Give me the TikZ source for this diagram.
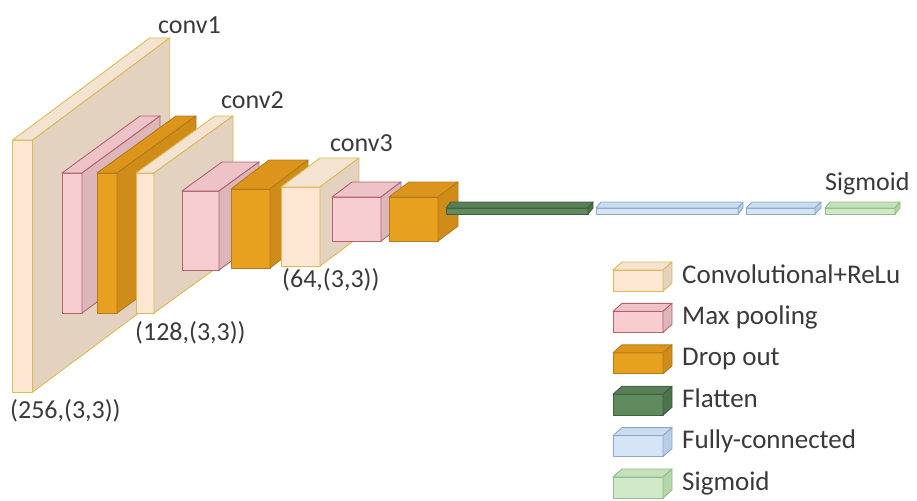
\documentclass[tikz,border=0pt]{standalone}
\usepackage{fontspec}
\setmainfont{Carlito}
\usepackage{tikz}

\definecolor{convfront}{HTML}{FDE7D3}
\definecolor{convtop}{HTML}{F4E3D1}
\definecolor{convside}{HTML}{E3D2BF}
\definecolor{convline}{HTML}{DDBA55}
\definecolor{poolfront}{HTML}{F7CDD1}
\definecolor{pooltop}{HTML}{EEC3C7}
\definecolor{poolside}{HTML}{DDB6B9}
\definecolor{poolline}{HTML}{B4636B}
\definecolor{dropfront}{HTML}{E8A11F}
\definecolor{droptop}{HTML}{DC951A}
\definecolor{dropside}{HTML}{D08C18}
\definecolor{dropline}{HTML}{B47A1E}
\definecolor{flatfront}{HTML}{5F8B5F}
\definecolor{flattop}{HTML}{587F57}
\definecolor{flatside}{HTML}{4C734C}
\definecolor{flatline}{HTML}{3F5F3F}
\definecolor{fcfront}{HTML}{D6E5F5}
\definecolor{fctop}{HTML}{C9DCF0}
\definecolor{fcside}{HTML}{B9CDE8}
\definecolor{fcline}{HTML}{8DA8CB}
\definecolor{sigfront}{HTML}{D1E8C9}
\definecolor{sigtop}{HTML}{C5E0BB}
\definecolor{sigside}{HTML}{B5D5AA}
\definecolor{sigline}{HTML}{8EBF86}
\definecolor{labeltext}{HTML}{3A3A3A}

\tikzset{
  conv/.style={draw=convline, line width=0.9pt, line join=round},
  convfront/.style={conv, fill=convfront},
  convtop/.style={conv, fill=convtop},
  convside/.style={conv, fill=convside},
  pool/.style={draw=poolline, line width=0.9pt, line join=round},
  poolfront/.style={pool, fill=poolfront},
  pooltop/.style={pool, fill=pooltop},
  poolside/.style={pool, fill=poolside},
  drop/.style={draw=dropline, line width=0.9pt, line join=round},
  dropfront/.style={drop, fill=dropfront},
  droptop/.style={drop, fill=droptop},
  dropside/.style={drop, fill=dropside},
  flat/.style={draw=flatline, line width=0.9pt, line join=round},
  flatfront/.style={flat, fill=flatfront},
  flattop/.style={flat, fill=flattop},
  flatside/.style={flat, fill=flatside},
  fc/.style={draw=fcline, line width=0.9pt, line join=round},
  fcfront/.style={fc, fill=fcfront},
  fctop/.style={fc, fill=fctop},
  fcside/.style={fc, fill=fcside},
  sig/.style={draw=sigline, line width=0.9pt, line join=round},
  sigfront/.style={sig, fill=sigfront},
  sigtop/.style={sig, fill=sigtop},
  sigside/.style={sig, fill=sigside},
  layertext/.style={text=labeltext, inner sep=0pt, font=\fontsize{26}{30}\selectfont},
  keytext/.style={layertext, font=\fontsize{27}{31}\selectfont}
}

% #1 kind, #2 left, #3 top, #4 width, #5 height, #6 depth x, #7 depth y
\newcommand{\layerbox}[7]{%
  \draw[#1front] (#2,#3) rectangle ++(#4,#5);
  \draw[#1top] (#2,#3) -- ++(#6,-#7) -- ++(#4,0) -- ++(-#6,#7) -- cycle;
  \draw[#1side] ({#2+#4},#3) -- ++(#6,-#7) -- ++(0,#5) -- ++(-#6,#7) -- cycle;
}

\begin{document}
\begin{tikzpicture}[x=1pt,y=-1pt]
\useasboundingbox (0,0) rectangle (917,500);
% network
\layerbox{conv}{12.7}{140}{20}{252}{137}{102}
\layerbox{pool}{62}{173}{20}{140}{78}{57}
\layerbox{drop}{97}{173}{20}{140}{79}{57}
\layerbox{conv}{136}{173}{18}{140}{79}{57}
\layerbox{pool}{182}{191}{37}{79}{40}{29}
\layerbox{drop}{231}{189}{39}{79}{38}{29}
\layerbox{conv}{281}{187}{39}{79}{39}{29}
\layerbox{pool}{332}{197}{49}{44}{20}{15}
\layerbox{drop}{389}{197}{49}{44}{20}{15}
\layerbox{flat}{446}{208}{142}{6}{5}{6}
\layerbox{fc}{596}{208}{142}{6}{5}{6}
\layerbox{fc}{746}{208}{69}{6}{6}{6}
\layerbox{sig}{825}{208}{70}{6}{5}{6}
% layer labels
\node[layertext, anchor=base west] (conv1) at (158,34) {conv1};
\node[layertext, anchor=base west] (conv2) at (221,109) {conv2};
\node[layertext, anchor=base west] (conv3) at (330,151) {conv3};
\node[layertext, anchor=base west] (size1) at (10,418) {(256,(3,3))};
\node[layertext, anchor=base west] (size2) at (135,340) {(128,(3,3))};
\node[layertext, anchor=base west] (size3) at (282,287) {(64,(3,3))};
\node[layertext, anchor=base west] (sigtop) at (825,190) {Sigmoid};
% legend
\layerbox{conv}{613}{270}{50}{21}{9}{8}
\layerbox{pool}{613}{311.4}{50}{21}{9}{8}
\layerbox{drop}{613}{352.8}{50}{21}{9}{8}
\layerbox{flat}{613}{394.2}{50}{21}{9}{8}
\layerbox{fc}{613}{435.6}{50}{21}{9}{8}
\layerbox{sig}{613}{477}{50}{21}{9}{8}
\node[keytext, anchor=base west] (keyconv) at (682,283) {Convolutional+ReLu};
\node[keytext, anchor=base west] (keypool) at (682,324.4) {Max pooling};
\node[keytext, anchor=base west] (keydrop) at (682,365.8) {Drop out};
\node[keytext, anchor=base west] (keyflat) at (682,407.2) {Flatten};
\node[keytext, anchor=base west] (keyfc) at (682,448.6) {Fully-connected};
\node[keytext, anchor=base west] (keysig) at (682,490) {Sigmoid};
\end{tikzpicture}
\end{document}
